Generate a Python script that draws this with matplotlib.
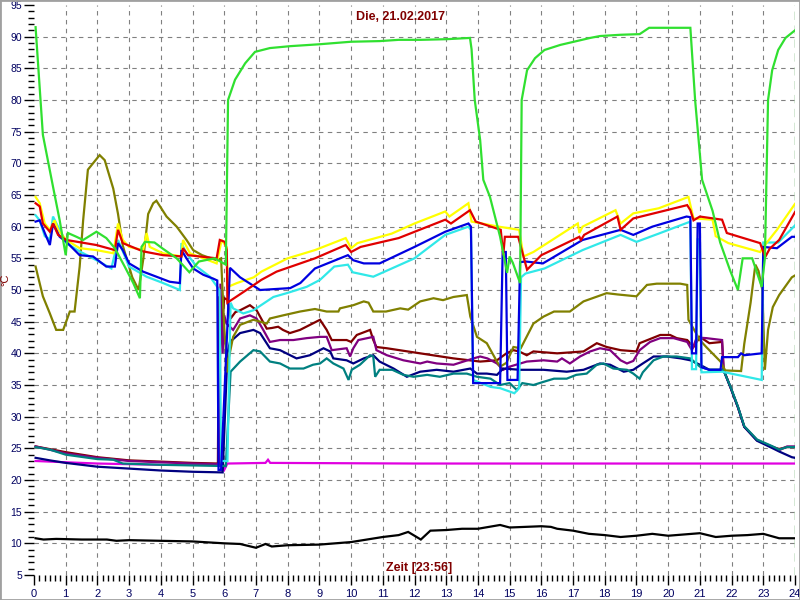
import matplotlib
matplotlib.use("Agg")
import matplotlib.pyplot as plt
from matplotlib.patches import Rectangle
from matplotlib.ticker import MultipleLocator

# ---------------- data (hour of day, temperature in °C) ----------------
green_h = [0.05, 0.28, 0.6, 0.81, 1.0, 1.07, 1.34, 1.55, 1.97, 2.28, 2.55, 2.86, 3.13, 3.34, 3.39, 3.5, 3.8,
           4.07, 4.5, 4.9, 5.2, 5.7, 6.05, 6.12, 6.34, 6.66, 6.97, 7.44, 8.08, 9.0, 10.0, 10.9, 11.5, 12.2,
           13.0, 13.75, 13.8, 13.9, 14.07, 14.17, 14.38, 14.7, 14.92, 15.0, 15.1, 15.33, 15.38, 15.55, 15.8,
           16.1, 16.6, 17.54, 17.85, 18.5, 19.1, 19.4, 20.0, 20.7, 20.85, 21.07, 21.4, 21.64, 21.96, 22.2,
           22.35, 22.65, 22.95, 23.05, 23.15, 23.28, 23.47, 23.7, 24.0]
green_v = [91.5, 74.5, 66.3, 61.0, 55.5, 59.0, 58.4, 57.9, 59.2, 58.2, 56.6, 53.7, 51.1, 48.7, 56.8, 57.6, 57.5,
           56.5, 55.0, 52.8, 54.5, 55.0, 54.0, 80.0, 83.2, 85.8, 87.6, 88.2, 88.5, 88.8, 89.2, 89.3, 89.5, 89.5,
           89.6, 89.8, 88.0, 80.0, 73.7, 67.4, 64.7, 58.4, 52.7, 55.3, 54.3, 51.1, 80.0, 84.7, 86.6,
           87.9, 88.7, 89.8, 90.1, 90.3, 90.4, 91.4, 91.4, 91.4, 80.0, 67.4, 62.5, 57.5, 53.0, 50.0,
           55.0, 55.0, 50.5, 55.0, 80.0, 84.7, 87.9, 89.8, 91.0]

yellow_h = [0.05, 0.18, 0.34, 0.5, 0.65, 0.76, 1.02, 1.44, 1.97, 2.5, 2.65, 2.8, 3.0, 3.44, 3.55, 3.65, 4.07,
            4.65, 4.7, 4.92, 5.76, 5.92, 6.07, 6.12, 6.4, 6.93, 7.17, 8.0, 8.86, 9.83, 10.0, 10.2, 11.28,
            12.0, 12.97, 13.1, 13.7, 13.8, 14.66, 15.3, 15.44, 15.75, 17.15, 17.2, 17.3, 18.34, 18.5, 18.9,
            19.7, 20.64, 20.8, 21.4, 21.5, 21.9, 22.9, 23.05, 23.43, 24.0]
yellow_v = [64.7, 63.7, 60.5, 59.5, 61.0, 59.5, 57.9, 56.6, 56.3, 55.8, 60.5, 57.9, 56.8, 56.3, 59.0, 56.8, 55.8,
            55.3, 57.9, 55.8, 54.2, 57.9, 56.8, 50.5, 51.1, 52.0, 52.9, 55.0, 56.3, 58.2, 56.6, 57.4, 58.9,
            60.5, 62.4, 61.6, 63.7, 60.8, 60.0, 59.5, 55.3, 56.0, 60.5, 59.0, 60.0, 62.6, 60.5, 62.1,
            62.9, 64.7, 61.3, 61.1, 58.5, 57.4, 56.0, 57.1, 59.5, 63.6]

red_h = [0.05, 0.18, 0.28, 0.5, 0.6, 0.76, 1.02, 1.97, 2.55, 2.65, 2.8, 3.44, 4.07, 4.65, 4.7, 4.86, 5.76,
         5.86, 6.02, 6.08, 6.1, 6.4, 6.7, 7.17, 7.65, 8.86, 9.83, 10.0, 10.3, 11.5, 12.97, 13.15, 13.75,
         13.93, 14.6, 14.72, 14.8, 14.85, 15.27, 15.55, 16.0, 17.2, 17.25, 17.35, 18.4, 18.5, 18.9, 20.6,
         20.7, 20.8, 21.0, 21.7, 21.85, 22.9, 23.06, 23.2, 23.5, 24.0]
red_v = [63.7, 63.2, 60.5, 59.2, 60.5, 58.7, 57.9, 57.1, 56.3, 59.5, 57.4, 56.1, 55.5, 55.3, 56.6, 55.5, 55.0,
         57.9, 57.6, 56.3, 48.0, 49.0, 50.0, 51.6, 52.9, 55.0, 57.1, 56.0, 56.8, 58.2, 61.1, 60.5, 62.6,
         60.8, 59.7, 59.5, 55.5, 58.4, 58.4, 53.2, 55.5, 58.4, 57.9, 58.7, 61.6, 59.5, 61.3, 63.4,
         62.6, 61.0, 61.6, 61.1, 59.0, 57.4, 55.2, 56.5, 57.9, 62.3]

blue_h = [0.05, 0.18, 0.34, 0.5, 0.6, 0.7, 0.81, 1.02, 1.44, 1.86, 2.28, 2.55, 2.65, 2.8, 3.0, 3.44, 3.86,
          4.28, 4.6, 4.65, 4.81, 5.02, 5.34, 5.65, 5.78, 5.82, 5.9, 6.18, 6.5, 7.13, 8.08, 8.4, 8.86, 9.9,
          10.07, 10.4, 10.9, 12.0, 12.97, 13.7, 13.78, 13.85, 14.7, 14.78, 14.88, 14.93, 15.25, 15.33,
          15.5, 16.05, 17.3, 18.5, 18.9, 19.5, 20.58, 20.7, 20.75, 20.88, 20.93, 21.0, 21.05, 21.3,
          21.65, 21.7, 22.2, 22.3, 22.4, 22.95, 23.0, 23.43, 23.9, 24.0]
blue_v = [60.8, 61.0, 59.0, 57.1, 60.5, 59.5, 58.4, 57.6, 55.5, 55.3, 53.7, 53.7, 57.4, 56.3, 54.2, 52.9, 52.1,
          51.3, 51.1, 56.3, 55.0, 53.4, 52.4, 51.8, 51.5, 21.6, 21.6, 53.5, 52.0, 50.0, 50.3, 51.1, 53.4, 55.5,
          54.7, 54.2, 54.2, 56.8, 59.2, 60.5, 60.0, 35.3, 35.3, 56.0, 56.0, 35.8, 35.8, 54.4,
          54.5, 54.2, 57.9, 59.5, 58.7, 60.0, 61.6, 61.5, 40.0, 40.0, 60.5, 60.5, 37.8, 37.4,
          37.4, 39.4, 39.4, 40.0, 39.7, 40.0, 56.8, 56.6, 58.4, 58.4]

cyan_h = [0.05, 0.18, 0.34, 0.5, 0.6, 0.76, 1.02, 1.44, 1.97, 2.44, 2.65, 3.0, 3.55, 4.07, 4.6, 4.65, 4.81,
          5.13, 5.55, 5.85, 5.9, 6.1, 6.2, 6.28, 6.6, 6.92, 7.55, 7.97, 8.6, 9.02, 9.47, 9.9, 10.05, 10.7,
          12.0, 12.97, 13.7, 13.78, 13.85, 14.4, 14.7, 15.15, 15.3, 15.36, 15.5, 16.1, 17.3, 18.5, 19.0,
          19.7, 20.7, 20.75, 20.88, 20.93, 21.0, 21.05, 21.7, 22.95, 23.0, 23.47, 24.0]
cyan_v = [61.8, 61.0, 58.5, 58.0, 61.6, 60.0, 57.4, 56.1, 54.7, 53.4, 57.9, 53.7, 52.1, 51.1, 50.0, 57.4, 55.8,
          53.7, 52.1, 50.0, 23.0, 23.0, 48.0, 47.1, 46.3, 46.8, 48.9, 49.5, 50.5, 51.6, 53.7, 54.0, 52.8, 52.1,
          55.0, 58.7, 60.0, 59.5, 35.8, 34.7, 34.5, 33.7, 34.5, 52.0, 52.6, 53.4, 56.3, 58.7, 57.6,
          58.9, 60.8, 37.5, 37.5, 58.0, 58.0, 37.0, 37.1, 35.8, 57.5, 57.5, 60.2]

olive_h = [0.05, 0.28, 0.5, 0.7, 0.92, 1.13, 1.28, 1.44, 1.55, 1.7, 2.07, 2.23, 2.5, 2.65, 2.8, 3.1, 3.3,
           3.45, 3.6, 3.76, 3.86, 4.18, 4.5, 4.81, 5.02, 5.3, 5.76, 5.9, 6.0, 6.1, 6.13, 6.28, 6.5, 6.92,
           7.34, 7.44, 7.86, 8.39, 8.86, 9.23, 9.6, 9.65, 10.07, 10.4, 10.55, 10.7, 11.1, 11.55, 11.8,
           12.18, 12.6, 12.9, 13.23, 13.65, 13.76, 13.97, 14.28, 14.6, 14.7, 14.9, 15.12, 15.35, 15.75,
           16.07, 16.4, 16.9, 17.33, 18.06, 18.4, 19.0, 19.33, 19.64, 20.38, 20.6, 20.64, 21.0, 21.2,
           21.65, 21.8, 22.3, 22.4, 22.6, 22.75, 22.85, 22.97, 23.05, 23.15, 23.3, 23.5, 23.9, 24.0]
olive_v = [53.7, 49.0, 46.3, 43.7, 43.7, 46.6, 46.6, 53.7, 61.0, 69.0, 71.3, 70.5, 66.0, 62.0, 57.0, 52.0, 50.0,
           55.0, 62.0, 63.7, 64.1, 61.6, 60.0, 57.9, 56.3, 55.5, 54.7, 55.0, 44.0, 37.0, 38.9, 42.6, 44.5, 45.3,
           44.7, 45.5, 46.0, 46.6, 47.0, 46.6, 46.6, 47.1, 47.6, 48.2, 48.0, 46.6, 46.6, 47.1, 46.9,
           48.2, 48.7, 48.4, 48.9, 49.2, 45.8, 42.6, 41.6, 38.7, 37.9, 38.5, 41.0, 40.8, 44.7,
           45.8, 46.6, 46.6, 48.2, 49.5, 49.3, 49.0, 50.8, 51.0, 51.0, 50.8, 45.3, 42.1, 41.0,
           38.7, 37.3, 37.2, 41.5, 48.0, 54.0, 53.0, 50.0, 37.4, 43.7, 47.3, 49.2, 52.0, 52.3]

maroon_h = [0.05, 1.0, 2.0, 3.0, 4.0, 5.0, 5.8, 5.83, 5.9, 6.0, 6.1, 6.2, 6.35, 6.5, 6.81, 7.02, 7.34, 7.5,
            7.7, 7.85, 8.07, 8.39, 9.02, 9.23, 9.39, 9.86, 10.0, 10.18, 10.6, 10.7, 10.8, 11.13, 12.18,
            13.23, 14.07, 14.6, 14.9, 15.12, 15.3, 15.54, 15.75, 16.5, 17.33, 17.75, 18.06, 18.5, 19.0,
            19.1, 19.75, 20.06, 20.27, 20.6, 20.8, 21.0, 21.3, 21.7, 21.75, 21.96, 22.2, 22.4, 22.8, 23.3,
            23.5, 23.75, 24.0]
maroon_v = [25.3, 24.4, 23.6, 23.1, 22.9, 22.7, 22.6, 49.0, 43.0, 48.7, 48.5, 45.5, 46.5, 46.8, 47.6, 46.8, 43.9,
            44.0, 44.2, 43.7, 43.2, 43.7, 45.3, 43.7, 42.1, 42.1, 41.8, 42.9, 43.7, 42.1, 41.0, 40.8, 40.0,
            39.2, 38.7, 38.9, 40.0, 40.5, 40.3, 39.7, 40.3, 40.0, 40.3, 41.6, 41.0, 40.5, 40.3,
            41.6, 42.9, 42.9, 42.4, 42.1, 41.0, 42.6, 41.6, 41.8, 37.4, 34.7, 31.5, 28.4, 26.3, 25.2,
            24.9, 25.2, 25.2]

purple_h = [0.05, 1.0, 2.0, 3.0, 4.0, 5.0, 5.85, 5.88, 5.95, 6.0, 6.07, 6.28, 6.5, 6.81, 7.02, 7.23, 7.44,
            7.76, 8.18, 8.6, 9.02, 9.23, 9.39, 9.86, 9.97, 10.07, 10.23, 10.7, 10.8, 11.13, 11.65, 12.18,
            12.4, 12.7, 13.23, 13.86, 14.07, 14.3, 14.6, 14.8, 15.0, 15.54, 16.07, 16.5, 16.65, 16.9,
            17.22, 17.54, 17.85, 18.17, 18.5, 18.7, 18.9, 19.1, 19.43, 19.75, 20.17, 20.6, 20.75, 20.9,
            21.2, 21.7, 21.75, 21.96, 22.2, 22.4, 22.8, 23.3, 23.5, 23.75, 24.0]
purple_v = [25.3, 24.2, 23.5, 23.0, 22.8, 22.6, 22.5, 51.0, 40.0, 46.0, 44.7, 43.7, 45.5, 46.0, 45.5, 43.7, 41.8,
            42.1, 42.1, 42.4, 42.6, 42.6, 40.5, 40.8, 39.5, 40.8, 42.1, 42.6, 40.5, 39.7, 38.9, 38.4,
            38.7, 38.4, 38.2, 39.2, 39.5, 39.2, 38.4, 37.4, 37.9, 38.7, 38.9, 38.7, 39.2, 38.4,
            39.5, 40.3, 40.8, 40.5, 38.9, 38.4, 38.8, 40.5, 41.8, 42.4, 42.4, 41.8, 40.5, 42.5,
            42.4, 42.1, 37.4, 34.7, 31.5, 28.4, 26.3, 25.2, 24.7, 25.3, 25.3]

navy_h = [0.05, 0.5, 1.0, 2.0, 3.0, 4.0, 5.0, 5.95, 6.1, 6.18, 6.5, 6.92, 7.13, 7.44, 7.76, 8.28, 8.7, 9.13,
          9.34, 9.44, 9.86, 10.07, 10.4, 10.7, 10.9, 11.34, 11.76, 12.18, 12.7, 13.23, 13.76, 13.97, 14.28,
          14.6, 14.8, 15.33, 16.07, 16.8, 17.33, 17.85, 18.17, 18.6, 18.9, 19.2, 19.54, 19.96, 20.4, 20.7,
          21.0, 21.3, 21.74, 21.96, 22.2, 22.4, 22.8, 23.3, 23.5, 23.9, 24.0]
navy_v = [23.5, 23.1, 22.7, 22.1, 21.8, 21.5, 21.3, 21.2, 40.0, 41.8, 43.2, 43.7, 43.2, 40.8, 40.5, 39.2, 39.7, 40.8,
          40.3, 39.2, 38.9, 38.4, 39.2, 39.7, 38.7, 37.6, 36.3, 37.1, 37.4, 37.1, 37.6, 36.8, 36.8,
          36.6, 37.6, 37.4, 37.4, 37.1, 37.4, 38.4, 38.2, 37.1, 37.4, 38.4, 39.5, 39.5, 39.2, 38.9,
          38.2, 37.4, 37.4, 34.7, 31.5, 28.4, 26.2, 25.0, 24.5, 23.6, 23.5]

teal_h = [0.05, 0.5, 1.0, 2.0, 2.5, 2.8, 4.0, 5.0, 6.05, 6.2, 6.5, 6.92, 7.13, 7.44, 7.76, 8.07, 8.5, 8.8,
          9.02, 9.23, 9.44, 9.76, 9.92, 10.02, 10.28, 10.6, 10.7, 10.76, 10.9, 11.3, 11.65, 11.97, 12.4,
          12.8, 13.23, 13.65, 13.97, 14.4, 14.7, 15.0, 15.23, 15.4, 15.75, 16.07, 16.4, 16.8, 17.1, 17.43,
          17.75, 17.96, 18.27, 18.7, 18.9, 19.1, 19.2, 19.54, 19.85, 20.27, 20.7, 21.0, 21.3, 21.74,
          21.96, 22.2, 22.4, 22.8, 23.3, 23.5, 23.75, 24.0]
teal_v = [25.2, 24.8, 24.0, 23.3, 23.2, 22.6, 22.4, 22.3, 22.2, 37.1, 38.7, 40.5, 40.3, 38.7, 38.4, 37.6, 37.6, 38.2,
          38.4, 39.2, 38.4, 37.6, 35.8, 37.4, 38.2, 39.7, 39.5, 36.3, 37.4, 37.4, 36.6, 36.3, 36.6,
          36.3, 36.8, 36.8, 36.3, 36.0, 35.0, 35.3, 34.2, 35.3, 35.0, 35.5, 36.0, 36.0, 36.6, 36.8,
          38.2, 38.4, 37.6, 37.4, 36.8, 36.0, 37.0, 38.9, 39.5, 39.5, 39.2, 37.9, 37.4, 37.4,
          34.8, 31.6, 28.5, 26.4, 25.3, 24.8, 25.2, 25.2]

magenta_h = [0.05, 1.0, 2.0, 3.0, 4.0, 5.0, 5.9, 6.0, 6.1, 7.3, 7.38, 7.45, 12.0, 24.0]
magenta_v = [23.0, 22.8, 22.6, 22.5, 22.4, 22.4, 22.4, 21.6, 22.6, 22.7, 23.2, 22.7, 22.6, 22.6]

black_h = [0.05, 0.3, 0.7, 1.5, 2.3, 2.6, 3.0, 4.0, 5.0, 6.0, 6.5, 7.0, 7.3, 7.5, 8.0, 9.0, 10.0, 11.0,
           11.5, 11.8, 12.2, 12.5, 13.0, 13.5, 14.0, 14.7, 15.0, 16.0, 16.3, 16.5, 17.0, 17.5, 18.0, 18.5,
           19.0, 19.5, 20.0, 21.0, 21.5, 22.0, 22.5, 23.0, 23.5, 24.0]
black_v = [10.8, 10.6, 10.7, 10.6, 10.6, 10.4, 10.5, 10.4, 10.3, 10.0, 9.9, 9.3, 9.9, 9.5, 9.7, 9.8, 10.2, 11.0,
           11.3, 11.8, 10.6, 12.0, 12.1, 12.3, 12.3, 12.9, 12.5, 12.7, 12.6, 12.3, 12.0, 11.5, 11.3, 11.0,
           11.2, 11.5, 11.2, 11.6, 11.0, 11.2, 11.3, 11.5, 10.8, 10.8]

series = [
    (black_h, black_v, "#000000"),
    (magenta_h, magenta_v, "#e000e0"),
    (maroon_h, maroon_v, "#800000"),
    (purple_h, purple_v, "#800080"),
    (navy_h, navy_v, "#000080"),
    (teal_h, teal_v, "#008080"),
    (olive_h, olive_v, "#808000"),
    (cyan_h, cyan_v, "#30e8e8"),
    (yellow_h, yellow_v, "#ffff00"),
    (blue_h, blue_v, "#0000e0"),
    (red_h, red_v, "#e00000"),
    (green_h, green_v, "#30e030"),
]

hour_ticks = list(range(0, 25))
temp_ticks = list(range(5, 96, 5))

title_text = "Die, 21.02.2017"
xlabel_text = "Zeit [23:56]"
ylabel_text = "°C"

# ---------------- figure ----------------
fig = plt.figure(figsize=(8, 6), dpi=100)
fig.patch.set_facecolor("white")
ax = fig.add_axes([34 / 800, 25 / 600, (795 - 34) / 800, (595 - 25) / 600])
ax.set_xlim(0, 24)
ax.set_ylim(5, 95)

for s in ax.spines.values():
    s.set_visible(False)

grid_kw = dict(color="#808080", lw=0.8, ls=(0, (4, 4)), zorder=0)
for h in hour_ticks[1:-1]:
    ax.axvline(h, **grid_kw)
for t in temp_ticks[1:-1]:
    ax.axhline(t, **grid_kw)
ax.axvline(24, color="#2a8a2a", lw=1.0, ls=(0, (6, 4)), zorder=0)

for i, (hh, vv, col) in enumerate(series):
    ax.plot(hh, vv, color=col, lw=1.6, solid_joinstyle="miter", zorder=2 + i)

ax.set_xticks(hour_ticks)
ax.set_yticks(temp_ticks)
ax.xaxis.set_minor_locator(MultipleLocator(1 / 6))
ax.yaxis.set_minor_locator(MultipleLocator(1))
tick_col = "#000060"
ax.tick_params(axis="both", which="major", labelsize=8, colors="#000000", labelcolor=tick_col,
               length=7, width=1)
ax.tick_params(axis="y", which="major", labelsize=7.5)
ax.tick_params(axis="both", which="minor", colors="#000000", length=4, width=1)
ax.tick_params(axis="x", pad=3)
ax.tick_params(axis="y", pad=1.5)
for lab in ax.get_xticklabels() + ax.get_yticklabels():
    lab.set_family("Liberation Sans")

fig.text(0.5, 1 - 17 / 600, title_text, ha="center", va="center", color="#800000",
         fontsize=9, fontweight="bold", family="Liberation Sans")
fig.text(419 / 800, 1 - 568 / 600, xlabel_text, ha="center", va="center", color="#800000",
         fontsize=9, fontweight="bold", family="Liberation Sans")
fig.text(5 / 800, 1 - 280 / 600, ylabel_text, ha="center", va="center", color="#800000",
         fontsize=8, rotation=90, family="Liberation Sans")

fig.patches.append(Rectangle((0, 0), 1, 1, transform=fig.transFigure, fill=False,
                             edgecolor="#a0a0a0", lw=2))

fig.savefig("out.png", dpi=100)
